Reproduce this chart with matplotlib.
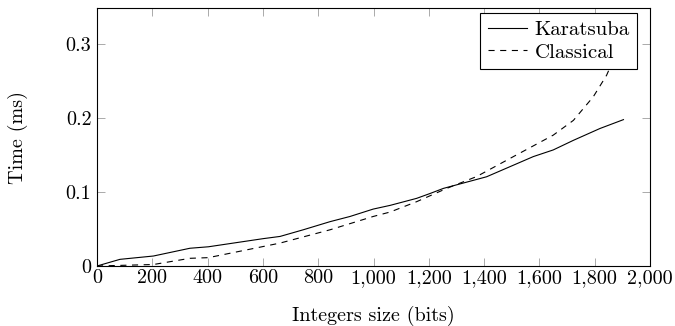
import matplotlib.pyplot as plt
from matplotlib.ticker import FuncFormatter

# integer sizes (bits) and timings (ms)
karatsuba_bits = [0, 83, 204, 336, 403, 601, 662, 746, 843, 915, 999, 1060,
                  1156, 1204, 1253, 1409, 1578, 1650, 1723, 1819, 1904]
karatsuba_ms = [0, 0.009, 0.0135, 0.024, 0.026, 0.037, 0.040, 0.049, 0.060, 0.067,
                0.077, 0.082, 0.0915, 0.098, 0.105, 0.1207, 0.148, 0.157, 0.170,
                0.186, 0.198]

classical_bits = [0, 204, 336, 403, 662, 843, 999, 1060, 1156, 1265, 1373,
                  1506, 1650, 1723, 1795, 1843, 1904]
classical_ms = [0, 0.002, 0.0104, 0.0113, 0.031, 0.049, 0.067, 0.073, 0.087,
                0.105, 0.121, 0.148, 0.177, 0.197, 0.229, 0.258, 0.31]

plt.rcParams['font.family'] = ['cmr10', 'DejaVu Serif']
plt.rcParams['font.size'] = 14.5
plt.rcParams['axes.unicode_minus'] = False

fig = plt.figure(figsize=(6.75, 3.26), dpi=100)
ax = fig.add_axes([97 / 675, 1 - 266 / 326, 553 / 675, 258 / 326])

ax.plot(karatsuba_bits, karatsuba_ms, color='black', lw=0.8, label='Karatsuba')
ax.plot(classical_bits, classical_ms, color='black', lw=0.8, dashes=(5.5, 5),
        label='Classical')

ax.set_xlim(0, 2000)
ax.set_ylim(0, 0.349)
ax.set_xticks(range(0, 2001, 200))
ax.set_yticks([0, 0.1, 0.2, 0.3])
ax.xaxis.set_major_formatter(FuncFormatter(lambda v, p: '{:,}'.format(int(v))))
ax.yaxis.set_major_formatter(FuncFormatter(lambda v, p: '0' if v == 0 else '{:g}'.format(v)))
ax.tick_params(direction='in', top=True, right=True, length=6, width=0.5,
               color='#888888')
ax.tick_params(axis='x', pad=2)
ax.tick_params(axis='y', pad=4)
for s in ax.spines.values():
    s.set_linewidth(0.8)

ax.set_xlabel('Integers size (bits)', labelpad=14)
ax.set_ylabel('Time (ms)', labelpad=27)

leg = ax.legend(loc='upper right', bbox_to_anchor=((637 - 97) / 553, (266 - 13) / 258),
                frameon=True, fancybox=False, framealpha=1, fontsize=15,
                edgecolor='black', borderaxespad=0, handlelength=1.9,
                handletextpad=0.35, borderpad=0.35, labelspacing=0.2)
leg.get_frame().set_linewidth(0.8)

plt.savefig('out.png', dpi=100)
